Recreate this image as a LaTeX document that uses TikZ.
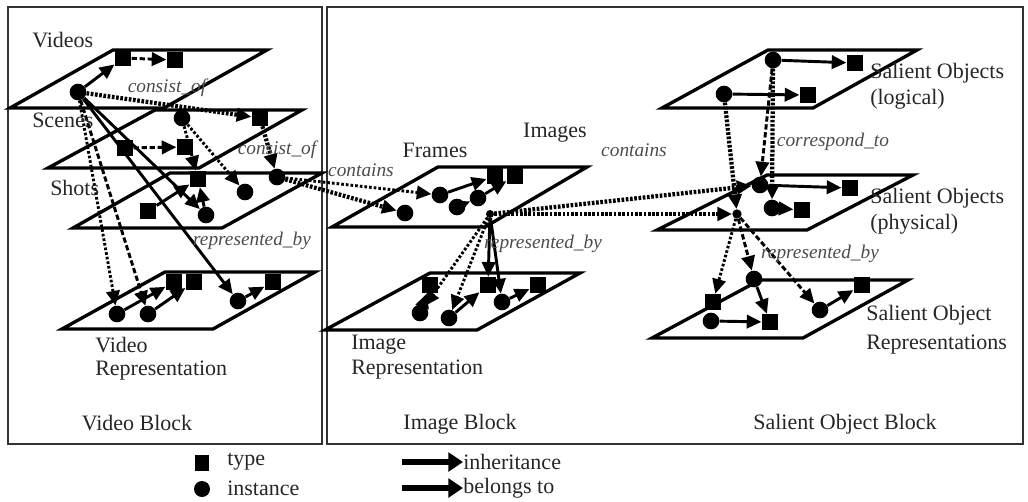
\documentclass[tikz,border=0pt]{standalone}
\usepackage{fontspec}
\setmainfont{Liberation Serif}
\usetikzlibrary{arrows.meta}
\begin{document}
\begin{tikzpicture}[x=0.75pt,y=-0.75pt,
  plane/.style={line width=2.5pt, line join=miter},
  typ/.style={rectangle, fill=black, minimum width=12.5pt, minimum height=12pt, inner sep=0pt},
  ins/.style={circle, fill=black, minimum size=12.5pt, inner sep=0pt},
  lbl/.style={font=\fontsize{16.5}{19}\selectfont, text=black!85, inner sep=0pt},
  rel/.style={font=\fontsize{14.5}{17}\selectfont\itshape, text=black!70, inner sep=0pt},
  conn/.style={line width=2.2pt, -{Triangle[length=11pt,width=10pt]}},
  dashc/.style={conn, dash pattern=on 4pt off 2pt},
  dotc/.style={conn, dash pattern=on 2pt off 1.5pt},
  hatch/.style={conn, line width=3.2pt, dash pattern=on 2pt off 1.2pt},
  blockbox/.style={draw, line width=1.3pt, black!80},
  legarrow/.style={line width=4pt, -{Triangle[length=11pt,width=14pt]}},
]
\useasboundingbox (0,0) rectangle (1028,501);

% block boxes
\draw[blockbox] (8,7) rectangle (322,444);
\draw[blockbox] (327,7) rectangle (1023,444);

% planes
\draw[plane] (113,50) -- (267,50) -- (164,108) -- (10,108) -- cycle;   % Videos
\draw[plane] (155,110) -- (302,110) -- (199,168) -- (48,168) -- cycle; % Scenes
\draw[plane] (170,173) -- (322,173) -- (222,228) -- (73,228) -- cycle; % Shots
\draw[plane] (165,272) -- (315,272) -- (213,329) -- (62,329) -- cycle; % Video repr.
\draw[plane] (438,167) -- (587,167) -- (485,227) -- (332,227) -- cycle; % Frames/Images
\draw[plane] (430,273) -- (580,273) -- (477,330) -- (325,330) -- cycle; % Image repr.
\draw[plane] (768,50) -- (917,50) -- (813,108) -- (662,108) -- cycle;  % SO logical
\draw[plane] (767,175) -- (913,175) -- (807,230) -- (657,230) -- cycle; % SO physical
\draw[plane] (760,280) -- (908,280) -- (803,338) -- (652,338) -- cycle; % SO repr.

% ---------- nodes: video block
\node[ins] (vi) at (78,92) {};
\node[typ] (vt1) at (123,58) {};
\node[typ] (vt2) at (175,60) {};
\node[ins] (si) at (182,118) {};
\node[typ] (st3) at (260,118) {};
\node[typ] (st1) at (125,148) {};
\node[typ] (st2) at (185,147) {};
\node[typ] (sht1) at (148,211) {};
\node[typ] (sht2) at (198,179) {};
\node[ins] (shi1) at (206,215) {};
\node[ins] (shi2) at (245,192) {};
\node[ins] (shi3) at (277,177) {};
\node[ins] (vri1) at (117,314) {};
\node[ins] (vri2) at (148,314) {};
\node[typ] (vrt1) at (174,282) {};
\node[typ] (vrt2) at (194,282) {};
\node[ins] (vri3) at (238,301) {};
\node[typ] (vrt3) at (273,282) {};

% ---------- nodes: image block
\node[ins] (fri0) at (405,213) {};
\node[ins] (fri1) at (440,195) {};
\node[ins] (fri2) at (457,207) {};
\node[typ] (frt1) at (495,176) {};
\node[typ] (frt2) at (515,176) {};
\node[ins] (fri3) at (478,198) {};
\node[ins, minimum size=6pt] (frc) at (490,214) {};
\node[typ] (irt1) at (430,285) {};
\node[ins] (iri1) at (420,313) {};
\node[ins] (iri2) at (449,318) {};
\node[typ] (irt2) at (488,285) {};
\node[ins] (iri3) at (502,302) {};
\node[typ] (irt3) at (538,285) {};

% ---------- nodes: salient object block
\node[ins] (sli1) at (773,60) {};
\node[typ] (slt1) at (855,63) {};
\node[ins] (sli2) at (724,94) {};
\node[typ] (slt2) at (808,95) {};
\node[ins] (spi1) at (760,185) {};
\node[typ] (spt1) at (850,188) {};
\node[ins] (spi2) at (772,208) {};
\node[typ] (spt2) at (802,210) {};
\node[ins, minimum size=7pt] (spc) at (737,214) {};
\node[typ] (srt1) at (713,302) {};
\node[ins] (sri1) at (711,321) {};
\node[ins] (sri3) at (754,279) {};
\node[typ] (srt2) at (770,322) {};
\node[ins] (sri2) at (820,310) {};
\node[typ] (srt4) at (862,285) {};

% ---------- connectors: video block
\draw[conn] (vi) -- (vt1);
\draw[dashc] (vt1) -- (vt2);
\draw[hatch] (vi) -- (st3);
\draw[dashc] (st1) -- (st2);
\draw[dotc] (si) -- (sht2);
\draw[dotc] (si) -- (shi2);
\draw[hatch] (st3) -- (shi3);
\draw[conn] (sht1) -- (sht2);
\draw[conn] (shi1) -- (sht2);
\draw[conn] (vi) -- (shi1);
\draw[dotc] (vi) -- (vri1);
\draw[dashc] (vi) -- (vri2);
\draw[conn] (vi) -- (vri3);
\draw[conn] (vri1) -- (vrt1);
\draw[conn] (vri2) -- (vrt2);
\draw[conn] (vri3) -- (vrt3);

% ---------- connectors: image block
\draw[hatch] (shi3) -- (fri0);
\draw[dotc] (shi3) -- (fri1);
\draw[conn] (fri1) -- (frt1);
\draw[conn] (fri3) -- (frt2);
\draw[conn] (fri2) -- (fri3);
\draw[dotc] (frc) -- (iri1);
\draw[dotc] (frc) -- (iri2);
\draw[conn] (frc) -- (irt2);
\draw[conn] (frc) -- (iri3);
\draw[conn] (iri1) -- (irt1);
\draw[conn] (iri2) -- (irt2);
\draw[conn] (iri3) -- (irt3);
\draw[hatch] (frc) -- (spi1);
\draw[hatch] (frc) -- (spc);

% ---------- connectors: salient object block
\draw[conn] (sli1) -- (slt1);
\draw[conn] (sli2) -- (slt2);
\draw[hatch] (sli2) -- (spc);
\draw[dashc] (sli1) -- (spi1);
\draw[hatch] (sli1) -- (spi2);
\draw[conn] (spi1) -- (spt1);
\draw[conn] (spi2) -- (spt2);
\draw[dotc] (spc) -- (srt1);
\draw[dashc] (spc) -- (sri3);
\draw[dashc] (spc) -- (sri2);
\draw[conn] (sri3) -- (srt2);
\draw[conn] (sri1) -- (srt2);
\draw[conn] (sri2) -- (srt4);

% ---------- labels
\node[lbl, anchor=west] (lvideos) at (32,40) {Videos};
\node[lbl, anchor=west] (lscenes) at (32,120) {Scenes};
\node[lbl, anchor=west] (lshots) at (50,188) {Shots};
\node[lbl, anchor=west] (lvr1) at (95,345) {Video};
\node[lbl, anchor=west] (lvr2) at (95,371) {Representation};
\node[lbl] (lvb) at (137,423) {Video Block};
\node[lbl] (lframes) at (435,150) {Frames};
\node[lbl] (limages) at (555,133) {Images};
\node[lbl, anchor=west] (lir1) at (351,345) {Image};
\node[lbl, anchor=west] (lir2) at (351,370) {Representation};
\node[lbl] (lib) at (460,424) {Image Block};
\node[lbl, anchor=west] (lsl1) at (870,73) {Salient Objects};
\node[lbl, anchor=west] (lsl2) at (870,99) {(logical)};
\node[lbl, anchor=west] (lsp1) at (870,198) {Salient Objects};
\node[lbl, anchor=west] (lsp2) at (870,224) {(physical)};
\node[lbl, anchor=west] (lsr1) at (866,315) {Salient Object};
\node[lbl, anchor=west] (lsr2) at (866,345) {Representations};
\node[lbl] (lsb) at (845,424) {Salient Object Block};

\node[rel] (rc1) at (167,88) {consist\_of};
\node[rel] (rc2) at (277,150) {consist\_of};
\node[rel] (rr1) at (252,241) {represented\_by};
\node[rel] (rco1) at (361,170) {contains};
\node[rel] (rco2) at (634,150) {contains};
\node[rel] (rr2) at (543,244) {represented\_by};
\node[rel] (rcor) at (833,142) {correspond\_to};
\node[rel] (rr3) at (820,254) {represented\_by};

% ---------- legend
\node[typ, minimum width=11pt, minimum height=12pt] (legt) at (202,463) {};
\node[ins, minimum size=12pt] (legi) at (202,489) {};
\node[lbl, anchor=west] (legtl) at (227,462) {type};
\node[lbl, anchor=west] (legil) at (227,488) {instance};
\coordinate (la1) at (402,462);
\node[lbl, anchor=west] (legin) at (463,462) {inheritance};
\draw[legarrow] (la1) -- (legin.west);
\coordinate (la2) at (402,488);
\node[lbl, anchor=west] (legbe) at (463,488) {belongs to};
\draw[legarrow] (la2) -- (legbe.west);
\end{tikzpicture}
\end{document}
